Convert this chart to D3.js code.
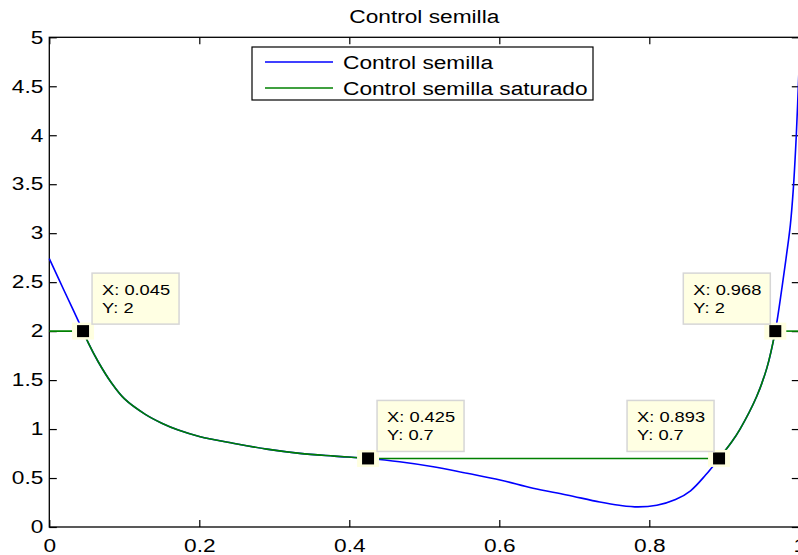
<!DOCTYPE html>
<html lang="es">
<head>
<meta charset="UTF-8">
<title>Control semilla</title>
<script src="https://d3js.org/d3.v7.min.js"></script>
<style>
    html, body { margin: 0; padding: 0; background: #fff; }
    svg text { font-family: "Liberation Sans", Arial, Helvetica, sans-serif; fill: #000; }
</style>
</head>
<body>
<div id="vis"></div>
<script>
// data
var xVals = [0, 0.02, 0.045, 0.052, 0.065, 0.083, 0.1, 0.128, 0.15, 0.172, 0.2, 0.245, 0.29, 0.334, 0.38, 0.425,
    0.467, 0.512, 0.557, 0.601, 0.645, 0.69, 0.734, 0.76, 0.785, 0.81, 0.835, 0.855, 0.875, 0.893, 0.91, 0.921,
    0.943, 0.957, 0.968, 0.977, 0.983, 0.988, 0.992, 0.996, 1];
var semilla = [2.74, 2.41, 2.0, 1.88, 1.69, 1.47, 1.31, 1.15, 1.06, 0.99, 0.925, 0.855, 0.795, 0.752, 0.724, 0.70,
    0.667, 0.616, 0.548, 0.48, 0.395, 0.327, 0.255, 0.222, 0.205, 0.222, 0.28, 0.37, 0.53, 0.70, 0.87, 1.0,
    1.33, 1.63, 2.0, 2.45, 2.78, 3.08, 3.45, 4.0, 4.75];

var satX = [0, 0.045, 0.052, 0.065, 0.083, 0.1, 0.128, 0.15, 0.172, 0.2, 0.245, 0.29, 0.334, 0.38, 0.425,
    0.893, 0.91, 0.921, 0.943, 0.957, 0.968, 1];
var saturado = [2, 2, 1.88, 1.69, 1.47, 1.31, 1.15, 1.06, 0.99, 0.925, 0.855, 0.795, 0.752, 0.724, 0.70,
    0.70, 0.87, 1.0, 1.33, 1.63, 2.0, 2.0];

var tipX = [0.045, 0.425, 0.893, 0.968];
var tipY = [2, 0.7, 0.7, 2];

var xTicks = [0, 0.2, 0.4, 0.6, 0.8, 1];
var yTicks = [0, 0.5, 1, 1.5, 2, 2.5, 3, 3.5, 4, 4.5, 5];
var seriesNames = ['Control semilla', 'Control semilla saturado'];
var seriesColors = ['#0000ff', '#008000'];
var title = 'Control semilla';

var width = 798, height = 555;
var plot = { left: 49.3, right: 799.3, top: 37.3, bottom: 527 };
var K = 1.26; // text looks horizontally wide in the original

var svg = d3.select('#vis')
    .append('svg')
    .attr('width', width)
    .attr('height', height);

var x = d3.scaleLinear().domain([0, 1]).range([plot.left, plot.right]);
var y = d3.scaleLinear().domain([0, 5]).range([plot.bottom, plot.top]);

var fmt = d3.format('');

// axes, ticks pointing inward like matlab
svg.append('g')
    .attr('class', 'x axis')
    .attr('transform', 'translate(0,' + plot.bottom + ')')
    .call(d3.axisBottom(x).tickValues(xTicks).tickSizeInner(-7).tickSizeOuter(0).tickPadding(12).tickFormat(fmt));
svg.append('g')
    .attr('transform', 'translate(0,' + plot.top + ')')
    .call(d3.axisTop(x).tickValues(xTicks).tickSizeInner(-7).tickSizeOuter(0).tickFormat(''));
svg.append('g')
    .attr('class', 'y axis')
    .attr('transform', 'translate(' + plot.left + ',0)')
    .call(d3.axisLeft(y).tickValues(yTicks).tickSizeInner(-7.5).tickSizeOuter(0).tickPadding(6).tickFormat(fmt));
svg.append('g')
    .attr('transform', 'translate(' + plot.right + ',0)')
    .call(d3.axisRight(y).tickValues(yTicks).tickSizeInner(-7.5).tickSizeOuter(0).tickFormat(''));

svg.selectAll('.domain').remove();
svg.selectAll('.tick line').attr('stroke', '#000').attr('stroke-width', 1.2);
svg.selectAll('.tick text').style('font-size', '18px').attr('fill', '#000');

svg.append('rect')
    .attr('x', plot.left).attr('y', plot.top)
    .attr('width', plot.right - plot.left).attr('height', plot.bottom - plot.top)
    .attr('fill', 'none').attr('stroke', '#000').attr('stroke-width', 1.3);

svg.append('text')
    .attr('x', (plot.left + plot.right) / 2)
    .attr('y', 22.7)
    .attr('text-anchor', 'middle')
    .style('font-size', '18px')
    .text(title);

var line = d3.line()
    .x(function(d) { return x(d[0]); })
    .y(function(d) { return y(d[1]); })
    .curve(d3.curveCatmullRom.alpha(0.5));

var blue = d3.zip(xVals, semilla);
svg.append('path')
    .attr('d', line(blue))
    .attr('fill', 'none')
    .attr('stroke', seriesColors[0])
    .attr('stroke-width', 1.6);

// split saturated series into flat and curved runs so the corners stay sharp
var green = d3.zip(satX, saturado);
var runs = [], cur = [green[0]];
for (var i = 1; i < green.length; i++) {
    cur.push(green[i]);
    if (i < green.length - 1) {
        var flatBefore = green[i - 1][1] === green[i][1];
        var flatAfter = green[i][1] === green[i + 1][1];
        if (flatBefore !== flatAfter) {
            runs.push(cur);
            cur = [green[i]];
        }
    }
}
runs.push(cur);
svg.selectAll('.sat')
    .data(runs)
    .enter()
    .append('path')
    .attr('class', 'sat')
    .attr('d', line)
    .attr('fill', 'none')
    .attr('stroke', seriesColors[1])
    .attr('stroke-width', 1.6);

// data tips
var tips = d3.zip(tipX, tipY);
var tip = svg.selectAll('.tip')
    .data(tips)
    .enter()
    .append('g')
    .attr('class', 'tip')
    .attr('transform', function(d) { return 'translate(' + x(d[0]) + ',' + y(d[1]) + ')'; });

tip.append('rect')
    .attr('x', -11).attr('y', -8.5).attr('width', 22).attr('height', 17)
    .attr('fill', '#ffffe0');
tip.append('rect')
    .attr('x', -6).attr('y', -6).attr('width', 12).attr('height', 12)
    .attr('fill', '#000');

var boxW = 87, boxH = 51;
var box = tip.append('g')
    .attr('transform', function(d) {
        var bx = d[0] > 0.5 ? -5 - boxW : 9;
        return 'translate(' + bx + ',' + (-7 - boxH) + ')';
    });
box.append('rect')
    .attr('width', boxW).attr('height', boxH)
    .attr('fill', '#ffffe3')
    .attr('stroke', '#d6d6d6')
    .attr('stroke-width', 1.5);
box.append('text')
    .attr('x', 10).attr('y', 22)
    .style('font-size', '14.5px')
    .text(function(d) { return 'X: ' + fmt(d[0]); });
box.append('text')
    .attr('x', 10).attr('y', 40)
    .style('font-size', '14.5px')
    .text(function(d) { return 'Y: ' + fmt(d[1]); });

// legend
var legend = svg.append('g').attr('transform', 'translate(252,47)');
legend.append('rect')
    .attr('width', 341).attr('height', 53)
    .attr('fill', '#fff').attr('stroke', '#000').attr('stroke-width', 1.2);
var item = legend.selectAll('.item')
    .data(seriesNames)
    .enter()
    .append('g')
    .attr('class', 'item')
    .attr('transform', function(d, i) { return 'translate(0,' + (15 + i * 26) + ')'; });
item.append('line')
    .attr('x1', 13).attr('x2', 81)
    .attr('stroke', function(d, i) { return seriesColors[i]; })
    .attr('stroke-width', 1.6);
item.append('text')
    .attr('x', 91).attr('y', 6.5)
    .style('font-size', '18px')
    .text(function(d) { return d; });

// widen every label
svg.selectAll('text').each(function() {
    var w = this.getComputedTextLength();
    if (w > 0) {
        d3.select(this).attr('textLength', w * K).attr('lengthAdjust', 'spacingAndGlyphs');
    }
});
</script>
</body>
</html>
